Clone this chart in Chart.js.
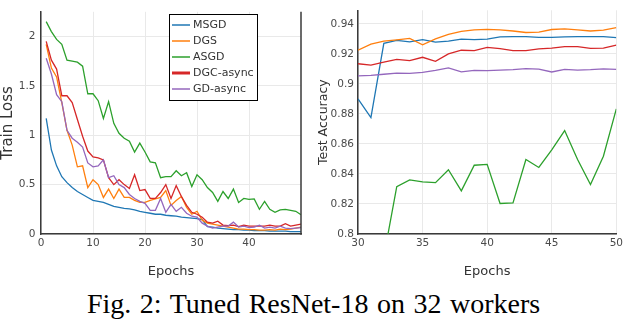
<!DOCTYPE html>
<html><head><meta charset="utf-8">
<script src="https://cdn.jsdelivr.net/npm/chart.js@4"></script>
<style>
html,body{margin:0;padding:0;background:#fff;}
#wrap{position:relative;width:626px;height:322px;overflow:hidden;background:#fff;}
#c1{position:absolute;left:0;top:0;}
#c2{position:absolute;left:305px;top:0;}
#cap{position:absolute;left:87px;top:290px;font-family:'Liberation Serif','Times New Roman',serif;font-size:28px;line-height:28px;word-spacing:1.5px;white-space:nowrap;color:#000;}
</style></head>
<body><div id="wrap">
<canvas id="c1" width="305" height="285"></canvas>
<canvas id="c2" width="321" height="285"></canvas>
<div id="cap">Fig. 2: Tuned ResNet-18 on 32 workers</div>
</div>
<script>
// ---------- data ----------
const seriesNames = ['MSGD','DGS','ASGD','DGC-async','GD-async'];
const lossEpochs = [1,2,3,4,5,6,7,8,9,10,11,12,13,14,15,16,17,18,19,20,21,22,23,24,25,26,27,28,29,30,31,32,33,34,35,36,37,38,39,40,41,42,43,44,45,46,47,48,49,50];
const msgdLoss = [1.17,0.85,0.69,0.58,0.52,0.47,0.43,0.40,0.37,0.34,0.33,0.32,0.30,0.28,0.27,0.26,0.255,0.245,0.23,0.22,0.21,0.20,0.20,0.19,0.185,0.18,0.17,0.165,0.16,0.155,0.145,0.075,0.07,0.06,0.055,0.05,0.045,0.045,0.04,0.04,0.035,0.035,0.035,0.03,0.03,0.03,0.03,0.025,0.025,0.025];
const dgsLoss = [1.92,1.68,1.59,1.33,1.05,0.90,0.68,0.69,0.47,0.55,0.50,0.37,0.455,0.36,0.455,0.37,0.37,0.34,0.32,0.32,0.34,0.355,0.37,0.44,0.29,0.34,0.38,0.27,0.20,0.23,0.14,0.11,0.10,0.09,0.08,0.07,0.06,0.05,0.05,0.045,0.045,0.04,0.04,0.045,0.04,0.05,0.045,0.05,0.06,0.07];
const asgdLoss = [2.15,2.05,1.97,1.92,1.76,1.75,1.74,1.70,1.42,1.42,1.35,1.17,1.34,1.12,1.02,0.97,0.94,0.83,0.92,0.83,0.73,0.72,0.57,0.58,0.58,0.64,0.59,0.62,0.48,0.60,0.55,0.47,0.42,0.33,0.43,0.36,0.455,0.32,0.36,0.35,0.355,0.25,0.33,0.25,0.22,0.245,0.25,0.24,0.23,0.195];
const dgcLoss = [1.95,1.76,1.67,1.40,1.40,1.33,1.16,0.99,0.84,0.78,0.77,0.75,0.57,0.50,0.55,0.50,0.46,0.60,0.44,0.45,0.36,0.36,0.42,0.50,0.36,0.49,0.38,0.29,0.22,0.20,0.17,0.12,0.11,0.13,0.09,0.085,0.09,0.075,0.09,0.08,0.08,0.08,0.08,0.09,0.08,0.08,0.105,0.08,0.09,0.10];
const gdLoss = [1.78,1.62,1.41,1.34,1.05,0.97,0.93,0.88,0.72,0.68,0.69,0.75,0.57,0.59,0.50,0.47,0.40,0.36,0.33,0.31,0.24,0.24,0.36,0.22,0.30,0.23,0.27,0.21,0.18,0.17,0.11,0.08,0.06,0.07,0.08,0.08,0.12,0.07,0.08,0.065,0.07,0.09,0.06,0.07,0.06,0.08,0.06,0.055,0.06,0.065];

const accEpochs = [30,31,32,33,34,35,36,37,38,39,40,41,42,43,44,45,46,47,48,49,50];
const msgdAcc = [0.890,0.8775,0.927,0.929,0.928,0.9295,0.9278,0.9285,0.9298,0.9295,0.9298,0.9313,0.9315,0.9314,0.931,0.931,0.9313,0.9314,0.9315,0.9315,0.9308];
const dgsAcc = [0.9224,0.9265,0.9284,0.9293,0.9303,0.926,0.930,0.933,0.935,0.936,0.9363,0.936,0.9352,0.9342,0.9345,0.9362,0.9366,0.936,0.9352,0.9358,0.9375];
const asgdAcc = [null,null,0.785,0.8315,0.836,0.8347,0.8342,0.8428,0.8287,0.8458,0.8464,0.8203,0.8207,0.8496,0.8443,0.8561,0.8689,0.8496,0.833,0.8518,0.8833];
const dgcAcc = [0.9134,0.9125,0.9145,0.9163,0.9155,0.9177,0.915,0.920,0.9224,0.9222,0.9243,0.9235,0.9222,0.9222,0.9233,0.9238,0.9248,0.9248,0.9236,0.9238,0.9258];
const gdAcc = [0.9053,0.9056,0.9064,0.9072,0.907,0.9077,0.909,0.9106,0.908,0.909,0.9088,0.9092,0.9095,0.9102,0.9098,0.9079,0.9096,0.9092,0.9095,0.91,0.9096];

const lossXTicks = [0,10,20,30,40];
const lossYTicks = [0,0.5,1,1.5,2];
const accXTicks = [30,35,40,45,50];
const accYTicks = [0.8,0.82,0.84,0.86,0.88,0.9,0.92,0.94];

// ---------- styles ----------
const colors = ['#1f77b4','#ff7f0e','#2ca02c','#d62728','#9467bd'];
const legendWidths = [1.5,1.5,1.5,3,1.5];
const FONT = "'DejaVu Sans', sans-serif";
const tickFont = {family: FONT, size: 10.5, weight: 'normal'};
const tickColor = '#4a4a4a';
const gridColor = '#e9e9e9';
const axisColor = '#3a3a3a';

function toPoints(xs, ys){ return xs.map((x,i)=>({x:x, y:ys[i]})); }
function makeDatasets(xs, arrs){
  return arrs.map((a,i)=>({
    label: seriesNames[i], data: toPoints(xs,a),
    borderColor: colors[i], backgroundColor: colors[i],
    borderWidth: 1.3, pointRadius: 0, tension: 0, fill: false,
    order: 4 - i, spanGaps: false
  }));
}

const decoPlugin = {
  id: 'deco',
  afterDraw(chart, args, opts){
    const ctx = chart.ctx, a = chart.chartArea;
    ctx.save();
    if (opts.rightBorder){
      ctx.strokeStyle = axisColor; ctx.lineWidth = 1.5;
      ctx.beginPath(); ctx.moveTo(a.right, a.top); ctx.lineTo(a.right, a.bottom + 0.75); ctx.stroke();
    }
    if (opts.legend){
      const L = opts.legend;
      ctx.fillStyle = '#fff';
      ctx.fillRect(L.x, L.y, L.w, L.h);
      ctx.strokeStyle = '#000'; ctx.lineWidth = 1;
      ctx.strokeRect(L.x + 0.5, L.y + 0.5, L.w, L.h);
      ctx.font = 'normal 11px ' + FONT;
      ctx.textBaseline = 'middle'; ctx.textAlign = 'left';
      chart.data.datasets.forEach((ds, i) => {
        const y = L.y + 11 + i * 16;
        ctx.strokeStyle = ds.borderColor; ctx.lineWidth = legendWidths[i];
        ctx.beginPath(); ctx.moveTo(L.x + 3, y); ctx.lineTo(L.x + 21, y); ctx.stroke();
        ctx.fillStyle = '#333';
        ctx.fillText(ds.label, L.x + 24, y + 0.5);
      });
    }
    ctx.restore();
  }
};

function axisX(min, max, ticksArr, title){
  return {
    type: 'linear', min: min, max: max,
    afterBuildTicks: s => { s.ticks = ticksArr.map(v => ({value: v})); },
    afterFit: s => { s.height = 51; },
    grid: {color: gridColor, lineWidth: 1, drawTicks: false},
    border: {display: true, color: axisColor, width: 1.5},
    ticks: {font: tickFont, color: tickColor, padding: 3, maxRotation: 0, callback: v => String(v)},
    title: {display: true, text: title, font: {family: FONT, size: 13, weight: 'normal'}, color: '#333', padding: {top: 0, bottom: 6}}
  };
}
function axisY(min, max, ticksArr, title, width, titleSize, titlePad, tickPad){
  return {
    type: 'linear', min: min, max: max,
    afterBuildTicks: s => { s.ticks = ticksArr.map(v => ({value: v})); },
    afterFit: s => { s.width = width; },
    grid: {color: gridColor, lineWidth: 1, drawTicks: false},
    border: {display: true, color: axisColor, width: 1.5},
    ticks: {font: tickFont, color: tickColor, padding: tickPad, callback: v => String(v)},
    title: {display: true, text: title, font: {family: FONT, size: titleSize, lineHeight: 1, weight: 'normal'}, color: '#333', padding: {top: titlePad, bottom: 0}}
  };
}

const common = {
  responsive: false, animation: false, devicePixelRatio: 1,
  plugins: {legend: {display: false}, tooltip: {enabled: false}},
  elements: {line: {capBezierPoints: false}}
};

new Chart(document.getElementById('c1'), {
  type: 'line',
  data: {datasets: makeDatasets(lossEpochs, [msgdLoss, dgsLoss, asgdLoss, dgcLoss, gdLoss])},
  options: Object.assign({}, common, {
    layout: {padding: {top: 2, right: 4, left: 0, bottom: 0}},
    scales: {
      x: axisX(0, 50, lossXTicks, 'Epochs'),
      y: axisY(0, 2.25, lossYTicks, 'Train Loss', 41, 15, 1, 5.5)
    },
    plugins: Object.assign({}, common.plugins, {
      deco: {rightBorder: true, legend: {x: 169, y: 14, w: 88, h: 86}}
    })
  }),
  plugins: [decoPlugin]
});

new Chart(document.getElementById('c2'), {
  type: 'line',
  data: {datasets: makeDatasets(accEpochs, [msgdAcc, dgsAcc, asgdAcc, dgcAcc, gdAcc])},
  options: Object.assign({}, common, {
    layout: {padding: {top: 2, right: 8, left: 0, bottom: 0}},
    scales: {
      x: axisX(30, 50, accXTicks, 'Epochs'),
      y: axisY(0.8, 0.949, accYTicks, 'Test Accuracy', 53, 12.5, 12, 4)
    },
    plugins: Object.assign({}, common.plugins, {deco: {rightBorder: false}})
  }),
  plugins: [decoPlugin]
});
</script>
</body></html>
